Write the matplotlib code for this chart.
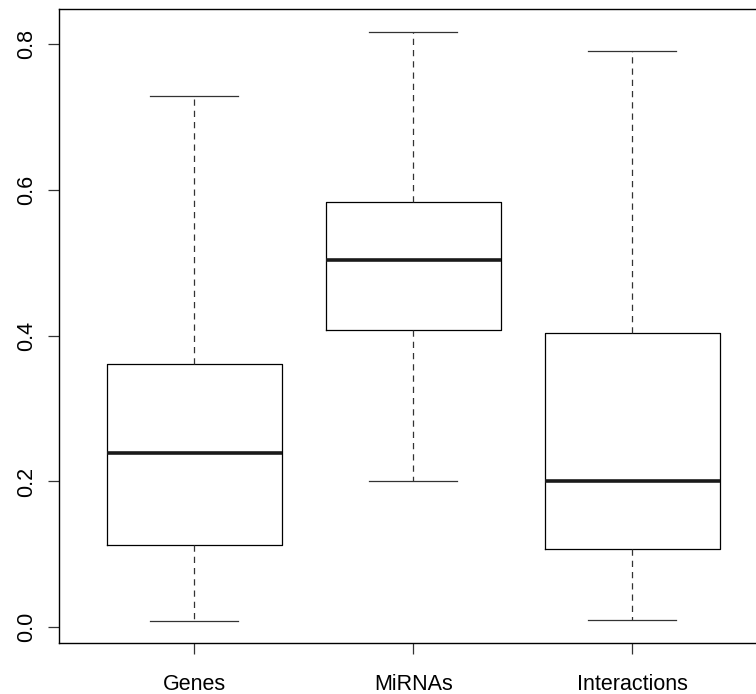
import matplotlib
matplotlib.use("Agg")
import matplotlib.pyplot as plt

categories = ["Genes", "MiRNAs", "Interactions"]
whisker_low = [0.009, 0.201, 0.010]
q1 = [0.113, 0.408, 0.108]
median = [0.239, 0.504, 0.201]
q3 = [0.361, 0.583, 0.403]
whisker_high = [0.729, 0.816, 0.790]
y_ticks = [0.0, 0.2, 0.4, 0.6, 0.8]

plt.rcParams['font.family'] = ['Liberation Sans', 'DejaVu Sans']

W, H = 756, 694
fig = plt.figure(figsize=(W / 100, H / 100), dpi=100)
px_per_unit = 219.0
left, top, bottom = 58.5, 9, 643.3
right = left + 3.24 * px_per_unit
ax = fig.add_axes([left / W, (H - bottom) / H, (right - left) / W, (bottom - top) / H])

stats = []
for i, name in enumerate(categories):
    stats.append(dict(label=name, whislo=whisker_low[i], q1=q1[i], med=median[i],
                      q3=q3[i], whishi=whisker_high[i], fliers=[]))

positions = list(range(1, len(categories) + 1))
ax.bxp(stats, positions=positions, widths=0.8, showfliers=False,
       boxprops=dict(color='black', linewidth=0.9),
       medianprops=dict(color='#1a1a1a', linewidth=2.6, solid_capstyle='butt'),
       whiskerprops=dict(color='#333333', linewidth=0.9, linestyle=(0, (5, 4))),
       capprops=dict(color='#333333', linewidth=0.9),
       capwidths=0.4)

ax.set_xlim(0.38, 3.62)
ax.set_ylim(-0.0219, 0.848)

ax.set_yticks(y_ticks)
ax.set_yticklabels([f"{v:.1f}" for v in y_ticks], rotation=90, va='center')
ax.set_xticks(positions)
ax.set_xticklabels(categories)
ax.tick_params(axis='both', labelsize=15.5, length=8.2, width=0.9, color='#333333')
ax.tick_params(axis='y', pad=7)
ax.tick_params(axis='x', pad=14)

for s in ax.spines.values():
    s.set_linewidth(1.0)
    s.set_color('black')

fig.savefig("out.png", dpi=100)
